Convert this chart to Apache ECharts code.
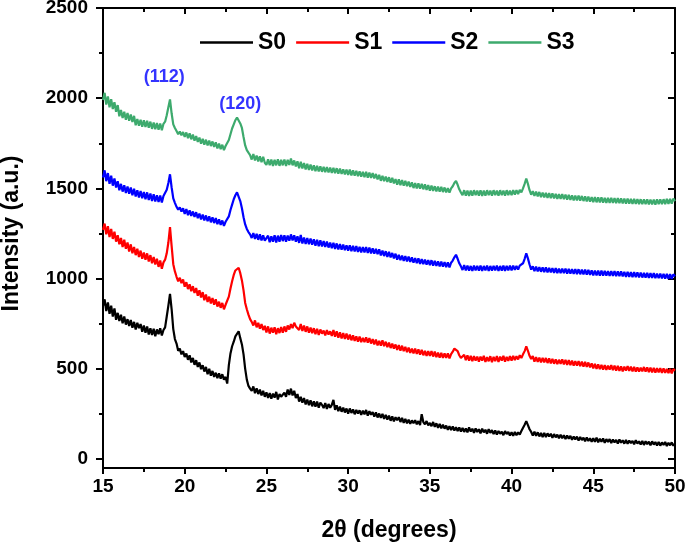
<!DOCTYPE html>
<html>
<head>
<meta charset="utf-8">
<script src="https://cdn.jsdelivr.net/npm/echarts@6/dist/echarts.min.js"></script>
<style>
html,body{margin:0;padding:0;background:#fff;}
#chart{width:685px;height:544px;}
</style>
</head>
<body>
<div id="chart"></div>
<script>
const twoTheta = [
15.0,15.1,15.2,15.3,15.4,15.5,15.6,15.7,15.8,15.9,
16.0,16.1,16.2,16.3,16.4,16.5,16.6,16.7,16.8,16.9,
17.0,17.1,17.2,17.3,17.4,17.5,17.6,17.7,17.8,17.9,
18.0,18.1,18.2,18.3,18.4,18.5,18.6,18.7,18.8,18.9,
19.0,19.1,19.2,19.3,19.4,19.5,19.6,19.7,19.8,19.9,
20.0,20.1,20.2,20.3,20.4,20.5,20.6,20.7,20.8,20.9,
21.0,21.1,21.2,21.3,21.4,21.5,21.6,21.7,21.8,21.9,
22.0,22.1,22.2,22.3,22.4,22.5,22.6,22.7,22.8,22.9,
23.0,23.1,23.2,23.3,23.4,23.5,23.6,23.7,23.8,23.9,
24.0,24.1,24.2,24.3,24.4,24.5,24.6,24.7,24.8,24.9,
25.0,25.1,25.2,25.3,25.4,25.5,25.6,25.7,25.8,25.9,
26.0,26.1,26.2,26.3,26.4,26.5,26.6,26.7,26.8,26.9,
27.0,27.1,27.2,27.3,27.4,27.5,27.6,27.7,27.8,27.9,
28.0,28.1,28.2,28.3,28.4,28.5,28.6,28.7,28.8,28.9,
29.0,29.1,29.2,29.3,29.4,29.5,29.6,29.7,29.8,29.9,
30.0,30.1,30.2,30.3,30.4,30.5,30.6,30.7,30.8,30.9,
31.0,31.1,31.2,31.3,31.4,31.5,31.6,31.7,31.8,31.9,
32.0,32.1,32.2,32.3,32.4,32.5,32.6,32.7,32.8,32.9,
33.0,33.1,33.2,33.3,33.4,33.5,33.6,33.7,33.8,33.9,
34.0,34.1,34.2,34.3,34.4,34.5,34.6,34.7,34.8,34.9,
35.0,35.1,35.2,35.3,35.4,35.5,35.6,35.7,35.8,35.9,
36.0,36.1,36.2,36.3,36.4,36.5,36.6,36.7,36.8,36.9,
37.0,37.1,37.2,37.3,37.4,37.5,37.6,37.7,37.8,37.9,
38.0,38.1,38.2,38.3,38.4,38.5,38.6,38.7,38.8,38.9,
39.0,39.1,39.2,39.3,39.4,39.5,39.6,39.7,39.8,39.9,
40.0,40.1,40.2,40.3,40.4,40.5,40.6,40.7,40.8,40.9,
41.0,41.1,41.2,41.3,41.4,41.5,41.6,41.7,41.8,41.9,
42.0,42.1,42.2,42.3,42.4,42.5,42.6,42.7,42.8,42.9,
43.0,43.1,43.2,43.3,43.4,43.5,43.6,43.7,43.8,43.9,
44.0,44.1,44.2,44.3,44.4,44.5,44.6,44.7,44.8,44.9,
45.0,45.1,45.2,45.3,45.4,45.5,45.6,45.7,45.8,45.9,
46.0,46.1,46.2,46.3,46.4,46.5,46.6,46.7,46.8,46.9,
47.0,47.1,47.2,47.3,47.4,47.5,47.6,47.7,47.8,47.9,
48.0,48.1,48.2,48.3,48.4,48.5,48.6,48.7,48.8,48.9,
49.0,49.1,49.2,49.3,49.4,49.5,49.6,49.7,49.8,49.9,
50.0
];

const s0 = [
850,885,820,868,805,850,790,835,772,810,
765,800,752,790,745,775,738,770,728,760,
718,755,725,748,705,740,700,735,690,725,
688,722,680,718,692,725,685,715,730,790,
850,915,830,720,665,640,600,612,580,598,
565,585,550,575,535,560,522,548,510,535,
498,520,485,510,470,500,462,488,455,478,
448,475,445,470,440,455,418,520,585,625,
650,680,690,708,670,635,580,500,440,405,
390,378,402,365,392,360,385,352,378,345,
370,338,365,335,362,340,372,330,360,345,
335,368,345,385,355,390,352,378,338,360,
318,345,312,338,302,330,298,325,292,320,
290,318,285,312,300,282,310,278,305,284,
300,328,272,298,265,290,262,285,258,280,
252,280,255,275,248,272,252,270,245,268,
248,272,240,265,245,260,235,258,230,252,
228,250,222,245,218,240,212,236,208,232,
215,232,205,228,200,222,198,218,195,214,
198,215,192,210,188,248,205,192,210,186,
200,182,205,178,198,172,195,170,190,168,
185,162,182,160,180,158,176,155,175,152,
172,150,170,148,175,152,168,145,170,150,
165,142,168,148,162,140,165,145,160,138,
158,135,155,140,152,132,155,138,150,130,
148,128,150,132,148,135,155,165,190,210,
188,165,150,130,152,128,148,125,145,122,
145,122,142,125,140,118,138,120,135,115,
135,115,132,110,130,112,128,106,125,108,
124,102,122,105,118,98,120,100,115,96,
115,95,118,92,112,96,114,90,110,94,
110,88,108,92,106,86,108,90,104,85,
105,84,102,88,100,82,104,86,98,80,
100,78,98,82,96,76,98,80,94,75,
95,74,92,78,94,72,90,76,92,74,
85
];

const s1 = [
1270,1305,1245,1290,1230,1275,1220,1260,1205,1240,
1190,1225,1175,1215,1165,1200,1150,1190,1140,1175,
1130,1165,1120,1155,1110,1145,1105,1140,1095,1130,
1085,1120,1078,1110,1065,1100,1055,1090,1105,1140,
1200,1285,1180,1080,1040,1010,985,1005,975,995,
955,980,942,968,930,958,920,948,905,935,
895,925,880,912,870,900,862,892,855,885,
845,872,838,865,830,855,848,900,945,985,
1020,1045,1052,1060,1030,990,935,865,830,800,
775,760,740,768,730,755,722,748,715,738,
702,735,695,728,700,730,692,725,698,732,
700,735,705,740,718,748,725,755,735,745,
715,748,710,740,705,735,700,728,698,725,
692,722,688,718,695,712,685,715,690,708,
682,715,678,708,672,702,668,698,665,695,
662,690,658,685,655,680,650,678,648,672,
648,675,645,670,640,665,635,662,630,655,
628,658,625,650,620,645,615,640,612,635,
605,632,600,628,598,622,592,618,588,612,
585,612,582,608,578,605,575,600,572,598,
572,598,568,595,565,590,562,588,560,585,
560,585,558,582,595,612,622,598,575,560,
552,578,548,575,545,572,542,570,545,568,
540,568,545,572,538,565,542,570,536,566,
542,570,538,568,545,572,540,566,544,570,
545,572,548,570,552,575,560,580,598,625,
600,572,555,570,540,565,538,562,536,560,
535,560,532,558,530,555,528,552,526,550,
528,552,525,550,522,548,520,545,518,542,
518,542,515,540,512,538,510,535,508,530,
502,528,500,525,498,522,496,520,494,518,
495,520,492,518,490,516,488,514,486,512,
490,515,488,512,486,510,485,508,484,506,
486,510,484,508,482,506,480,505,479,504,
480,504,478,502,477,500,476,500,475,498,
490
];

const s2 = [
1560,1600,1540,1585,1525,1570,1515,1555,1505,1540,
1490,1525,1482,1518,1475,1510,1470,1505,1462,1498,
1455,1490,1450,1485,1445,1480,1440,1478,1436,1472,
1430,1468,1428,1462,1425,1460,1422,1458,1465,1492,
1530,1578,1505,1445,1420,1398,1382,1395,1372,1390,
1358,1385,1352,1378,1348,1372,1342,1368,1335,1360,
1328,1355,1322,1350,1318,1345,1312,1340,1308,1335,
1302,1328,1298,1322,1292,1315,1310,1345,1380,1410,
1440,1462,1478,1472,1430,1390,1340,1300,1275,1258,
1245,1225,1252,1220,1248,1215,1245,1212,1240,1210,
1205,1238,1202,1235,1205,1240,1200,1238,1205,1242,
1208,1240,1205,1238,1210,1245,1212,1240,1205,1235,
1198,1242,1195,1228,1192,1225,1190,1222,1188,1218,
1182,1215,1180,1212,1178,1208,1175,1205,1172,1200,
1168,1198,1165,1195,1162,1192,1160,1188,1158,1185,
1155,1185,1152,1182,1150,1180,1148,1176,1145,1175,
1145,1175,1142,1172,1140,1168,1138,1165,1135,1162,
1128,1155,1125,1152,1120,1148,1118,1142,1112,1138,
1105,1132,1102,1128,1098,1125,1095,1122,1092,1118,
1088,1114,1085,1112,1082,1108,1080,1105,1078,1102,
1075,1102,1072,1098,1070,1096,1068,1094,1066,1092,
1064,1090,1062,1088,1100,1118,1132,1110,1085,1068,
1048,1075,1045,1072,1044,1070,1042,1072,1045,1070,
1044,1072,1042,1070,1045,1072,1042,1070,1044,1070,
1045,1072,1042,1070,1044,1072,1043,1070,1045,1072,
1046,1072,1048,1070,1050,1072,1062,1085,1110,1140,
1112,1078,1050,1068,1042,1066,1040,1064,1038,1062,
1036,1062,1035,1060,1034,1058,1032,1058,1030,1056,
1030,1056,1030,1055,1028,1054,1027,1052,1026,1052,
1025,1052,1024,1050,1023,1050,1022,1048,1020,1046,
1018,1045,1018,1044,1017,1044,1016,1043,1016,1042,
1015,1042,1015,1041,1014,1040,1014,1040,1012,1038,
1010,1038,1010,1036,1008,1036,1008,1035,1006,1034,
1006,1032,1005,1032,1004,1030,1004,1030,1002,1028,
1002,1028,1001,1026,1000,1026,999,1025,998,1024,
1012
];

const s3 = [
1990,2030,1965,2010,1950,1995,1940,1978,1925,1962,
1900,1935,1890,1925,1880,1918,1875,1910,1868,1902,
1850,1885,1848,1880,1842,1878,1840,1875,1836,1870,
1830,1865,1828,1862,1825,1860,1822,1858,1870,1905,
1950,1993,1915,1855,1835,1818,1800,1815,1795,1812,
1785,1810,1778,1805,1772,1798,1765,1790,1758,1782,
1748,1775,1742,1770,1738,1765,1735,1760,1730,1755,
1722,1748,1718,1742,1712,1735,1730,1768,1800,1832,
1855,1878,1893,1888,1860,1835,1785,1738,1712,1698,
1685,1660,1690,1655,1682,1650,1678,1645,1675,1642,
1630,1662,1628,1660,1625,1658,1628,1662,1625,1658,
1628,1660,1625,1658,1630,1665,1628,1655,1622,1650,
1612,1648,1610,1640,1605,1636,1602,1632,1600,1628,
1596,1625,1594,1622,1592,1620,1590,1618,1588,1615,
1586,1614,1584,1612,1582,1610,1580,1606,1578,1604,
1575,1604,1572,1600,1570,1598,1568,1594,1565,1592,
1562,1592,1560,1588,1558,1585,1555,1580,1550,1575,
1542,1570,1540,1566,1536,1562,1532,1558,1528,1552,
1520,1550,1518,1546,1515,1542,1512,1538,1508,1534,
1502,1530,1500,1528,1498,1525,1495,1522,1492,1518,
1488,1515,1486,1512,1484,1510,1482,1508,1480,1505,
1478,1502,1476,1500,1512,1530,1542,1520,1495,1478,
1462,1490,1460,1488,1458,1488,1460,1490,1462,1488,
1460,1490,1458,1488,1460,1490,1462,1488,1460,1490,
1462,1488,1460,1490,1462,1488,1460,1490,1462,1488,
1462,1490,1465,1490,1468,1492,1478,1500,1525,1555,
1525,1490,1465,1485,1458,1482,1456,1480,1452,1476,
1450,1475,1448,1474,1446,1472,1444,1470,1442,1468,
1442,1468,1440,1466,1438,1464,1436,1462,1434,1460,
1434,1460,1432,1458,1430,1456,1428,1455,1426,1452,
1424,1452,1423,1450,1422,1450,1421,1448,1420,1448,
1420,1448,1419,1446,1418,1446,1418,1445,1417,1444,
1416,1444,1415,1442,1414,1442,1414,1440,1413,1440,
1412,1440,1412,1440,1411,1438,1411,1438,1410,1440,
1412,1440,1412,1440,1413,1442,1414,1442,1416,1444,
1430
];

const seriesNames = ['S0', 'S1', 'S2', 'S3'];
const seriesColors = ['#000000', '#ff0000', '#0000ff', '#3daa6d'];
const xTicks = [15, 20, 25, 30, 35, 40, 45, 50];
const yTicks = [0, 500, 1000, 1500, 2000, 2500];
const annotationLabels = ['(112)', '(120)'];
const annotationX = [18.75, 23.4];
const annotationY = [2115, 1968];

const allSeries = [s0, s1, s2, s3];
const FONT = 'Liberation Sans, Arial, sans-serif';

const chart = echarts.init(document.getElementById('chart'), null, {renderer: 'canvas'});

const lineSeries = allSeries.map((vals, k) => ({
  name: seriesNames[k],
  type: 'line',
  xAxisIndex: 0,
  yAxisIndex: 0,
  data: twoTheta.map((x, i) => [x, vals[i]]),
  showSymbol: false,
  symbol: 'none',
  lineStyle: {color: seriesColors[k], width: 2.2},
  itemStyle: {color: seriesColors[k]},
  animation: false
}));

const annSeries = {
  type: 'scatter',
  xAxisIndex: 0,
  yAxisIndex: 0,
  symbolSize: 0,
  silent: true,
  data: annotationLabels.map((t, i) => ({name: t, value: [annotationX[i], annotationY[i]]})),
  label: {
    show: true,
    position: 'inside',
    formatter: p => p.name,
    color: '#0000ff',
    fontFamily: FONT,
    fontWeight: 'bold',
    fontSize: 18
  },
  animation: false
};

const blackLine = {color: '#000', width: 2};

const option = {
  backgroundColor: '#ffffff',
  animation: false,
  textStyle: {fontFamily: FONT},
  legend: {
    data: seriesNames.map(n => ({name: n, icon: 'rect'})),
    left: 200,
    top: 31,
    padding: 0,
    orient: 'horizontal',
    itemWidth: 53,
    itemHeight: 2.5,
    itemGap: 10,
    textStyle: {fontFamily: FONT, fontWeight: 'bold', fontSize: 23, color: '#000'}
  },
  grid: [
    {left: 103, right: 10, top: 8, bottom: 85, containLabel: false, outerBoundsMode: 'none'},
    {left: 103, right: 10, top: 8, bottom: 76, containLabel: false, outerBoundsMode: 'none'}
  ],
  xAxis: [
    {
      gridIndex: 0, type: 'value', position: 'bottom', offset: 9, min: 15, max: 50, interval: 5,
      axisLine: {show: true, onZero: false, lineStyle: blackLine},
      axisTick: {show: true, inside: false, length: 6, lineStyle: blackLine},
      minorTick: {show: true, splitNumber: 2, length: 4, lineStyle: blackLine},
      axisLabel: {
        show: true, margin: 9, color: '#000', fontFamily: FONT, fontWeight: 'bold', fontSize: 19,
        formatter: v => (xTicks.indexOf(v) >= 0 ? String(v) : '')
      },
      splitLine: {show: false},
      name: '2θ (degrees)',
      nameLocation: 'middle',
      nameGap: 51,
      nameTextStyle: {color: '#000', fontFamily: FONT, fontWeight: 'bold', fontSize: 23}
    },
    {
      gridIndex: 0, type: 'value', position: 'top', min: 15, max: 50, interval: 5,
      axisLine: {show: true, onZero: false, lineStyle: blackLine},
      axisTick: {show: true, inside: true, length: 6, lineStyle: blackLine},
      minorTick: {show: true, splitNumber: 2, length: 4, lineStyle: blackLine},
      axisLabel: {show: false},
      splitLine: {show: false}
    },
    {gridIndex: 1, type: 'value', min: 0, max: 1, show: false}
  ],
  yAxis: [
    {
      gridIndex: 0, type: 'value', position: 'left', min: 0, max: 2500, interval: 500,
      axisLine: {show: false},
      axisTick: {show: true, inside: false, length: 7, lineStyle: blackLine},
      minorTick: {show: true, splitNumber: 2, length: 4, lineStyle: blackLine},
      axisLabel: {
        show: true, margin: 15, color: '#000', fontFamily: FONT, fontWeight: 'bold', fontSize: 19,
        formatter: v => (yTicks.indexOf(v) >= 0 ? String(v) : '')
      },
      splitLine: {show: false},
      name: 'Intensity (a.u.)',
      nameLocation: 'middle',
      nameGap: 80,
      nameTextStyle: {color: '#000', fontFamily: FONT, fontWeight: 'bold', fontSize: 23}
    },
    {
      gridIndex: 0, type: 'value', position: 'right', min: 0, max: 2500, interval: 500,
      axisLine: {show: false},
      axisTick: {show: true, inside: true, length: 7, lineStyle: blackLine},
      minorTick: {show: true, splitNumber: 2, length: 4, lineStyle: blackLine},
      axisLabel: {show: false},
      splitLine: {show: false}
    },
    {
      gridIndex: 1, type: 'value', position: 'left', min: 0, max: 1,
      axisLine: {show: true, onZero: false, lineStyle: blackLine},
      axisTick: {show: false}, axisLabel: {show: false}, splitLine: {show: false}
    },
    {
      gridIndex: 1, type: 'value', position: 'right', min: 0, max: 1,
      axisLine: {show: true, onZero: false, lineStyle: blackLine},
      axisTick: {show: false}, axisLabel: {show: false}, splitLine: {show: false}
    }
  ],
  series: lineSeries.concat([annSeries])
};

chart.setOption(option);
</script>
</body>
</html>
